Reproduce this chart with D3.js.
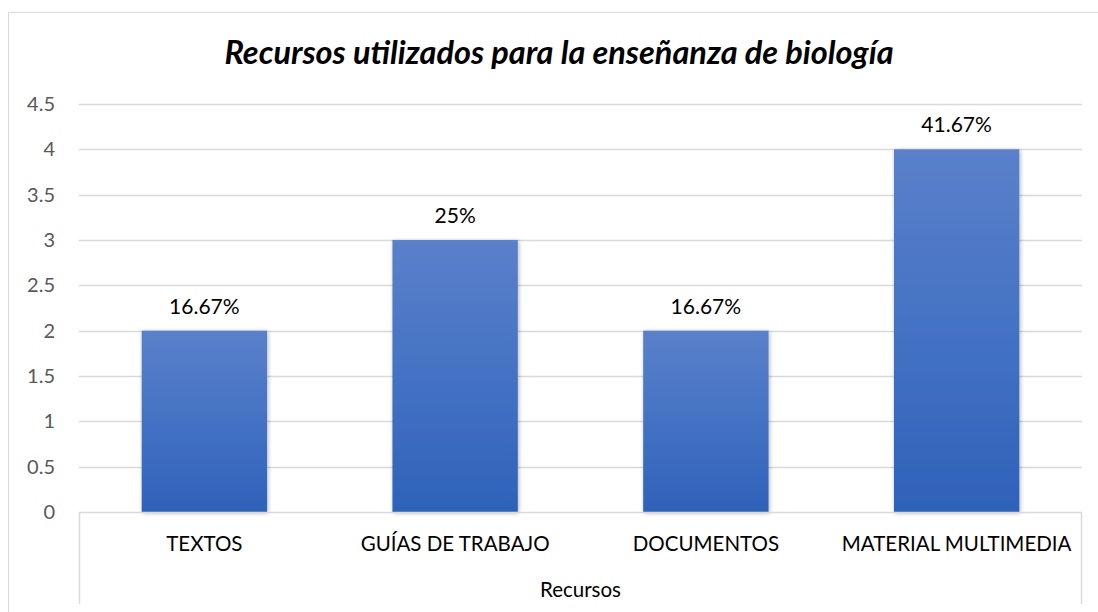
<!DOCTYPE html>
<html>
<head>
<meta charset="utf-8">
<script src="https://cdn.jsdelivr.net/npm/d3@7"></script>
<style>
    body { margin: 0; background: #fff; }
    text { font-family: Lato, "Open Sans", sans-serif; }
</style>
</head>
<body>
<div id="my_barchart"></div>
<script>
// chart data
var categories = ["TEXTOS", "GUÍAS DE TRABAJO", "DOCUMENTOS", "MATERIAL MULTIMEDIA"];
var values = [2, 3, 2, 4];
var pctLabels = ["16.67%", "25%", "16.67%", "41.67%"];
var yTicks = [0, 0.5, 1, 1.5, 2, 2.5, 3, 3.5, 4, 4.5];
var chartTitle = "Recursos utilizados para la enseñanza de biología";
var axisTitle = "Recursos";

var W = 1098, H = 612;
var margin = { top: 104, right: 16, bottom: 100, left: 79 },
    width = W - margin.left - margin.right,
    height = H - margin.top - margin.bottom;

var svg = d3.select("#my_barchart")
    .append("svg")
    .attr("width", W)
    .attr("height", H);

// gradient + shadow
var defs = svg.append("defs");
var grad = defs.append("linearGradient")
    .attr("id", "barGrad")
    .attr("x1", 0).attr("y1", 0).attr("x2", 0).attr("y2", 1);
grad.append("stop").attr("offset", "0%").attr("stop-color", "#5b80ca");
grad.append("stop").attr("offset", "50%").attr("stop-color", "#4472c4");
grad.append("stop").attr("offset", "100%").attr("stop-color", "#2e62b9");

var shadow = defs.append("filter").attr("id", "shadow")
    .attr("x", "-10%").attr("y", "-10%").attr("width", "130%").attr("height", "120%");
shadow.append("feDropShadow")
    .attr("dx", 1).attr("dy", 1).attr("stdDeviation", 2)
    .attr("flood-color", "#000").attr("flood-opacity", 0.3);

// outer chart border (right/bottom are off the picture)
svg.append("path")
    .attr("d", "M8.5," + H + "V12.5H" + W)
    .attr("fill", "none")
    .attr("stroke", "#d9d9d9")
    .attr("stroke-width", 1);

// title
svg.append("text")
    .attr("x", 559)
    .attr("y", 64)
    .attr("text-anchor", "middle")
    .style("font-size", "32.5px")
    .style("font-weight", "bold")
    .style("font-style", "italic")
    .attr("fill", "#000")
    .text(chartTitle);

var plot = svg.append("g")
    .attr("transform", "translate(" + margin.left + "," + margin.top + ")");

var x = d3.scaleBand()
    .domain(categories)
    .range([0, width])
    .paddingInner(0.5)
    .paddingOuter(0.25);

var y = d3.scaleLinear()
    .domain([0, 4.5])
    .range([height, 0]);

// gridlines
plot.append("g")
    .selectAll("line")
    .data(yTicks.filter(d => d > 0))
    .enter()
    .append("line")
    .attr("x1", 0)
    .attr("x2", width)
    .attr("y1", d => Math.round(y(d)) + 0.5)
    .attr("y2", d => Math.round(y(d)) + 0.5)
    .attr("stroke", "#d9d9d9")
    .attr("stroke-width", 1.3);

// y axis labels
var yAxis = plot.append("g")
    .call(d3.axisLeft(y).tickValues(yTicks).tickSize(0).tickPadding(24)
        .tickFormat(d3.format("")));
yAxis.select(".domain").remove();
yAxis.selectAll("text")
    .style("font-size", "20px")
    .attr("fill", "#595959");

// bars
plot.selectAll("rect.bar")
    .data(values)
    .enter()
    .append("rect")
    .attr("class", "bar")
    .attr("x", (d, i) => x(categories[i]))
    .attr("y", d => y(d))
    .attr("width", x.bandwidth())
    .attr("height", d => height - y(d))
    .attr("fill", "url(#barGrad)")
    .attr("filter", "url(#shadow)");

// data labels
plot.selectAll("text.lbl")
    .data(values)
    .enter()
    .append("text")
    .attr("class", "lbl")
    .attr("x", (d, i) => x(categories[i]) + x.bandwidth() / 2)
    .attr("y", d => y(d) - 17)
    .attr("text-anchor", "middle")
    .style("font-size", "21px")
    .attr("fill", "#000")
    .text((d, i) => pctLabels[i]);

// x axis: baseline and category box
var axisBottom = 92;
plot.append("path")
    .attr("d", "M0.5," + (height + axisBottom) + "V" + (height + 0.5) + "H" + (width - 0.5) + "V" + (height + axisBottom))
    .attr("fill", "none")
    .attr("stroke", "#d9d9d9")
    .attr("stroke-width", 1.5);

var xAxis = plot.append("g")
    .attr("transform", "translate(0," + height + ")")
    .call(d3.axisBottom(x).tickSize(0).tickPadding(24));
xAxis.select(".domain").remove();
xAxis.selectAll("text")
    .style("font-size", "20.5px")
    .attr("fill", "#000");

// outer category label
plot.append("text")
    .attr("x", width / 2)
    .attr("y", height + 85)
    .attr("text-anchor", "middle")
    .style("font-size", "20.5px")
    .attr("fill", "#000")
    .text(axisTitle);
</script>
</body>
</html>
